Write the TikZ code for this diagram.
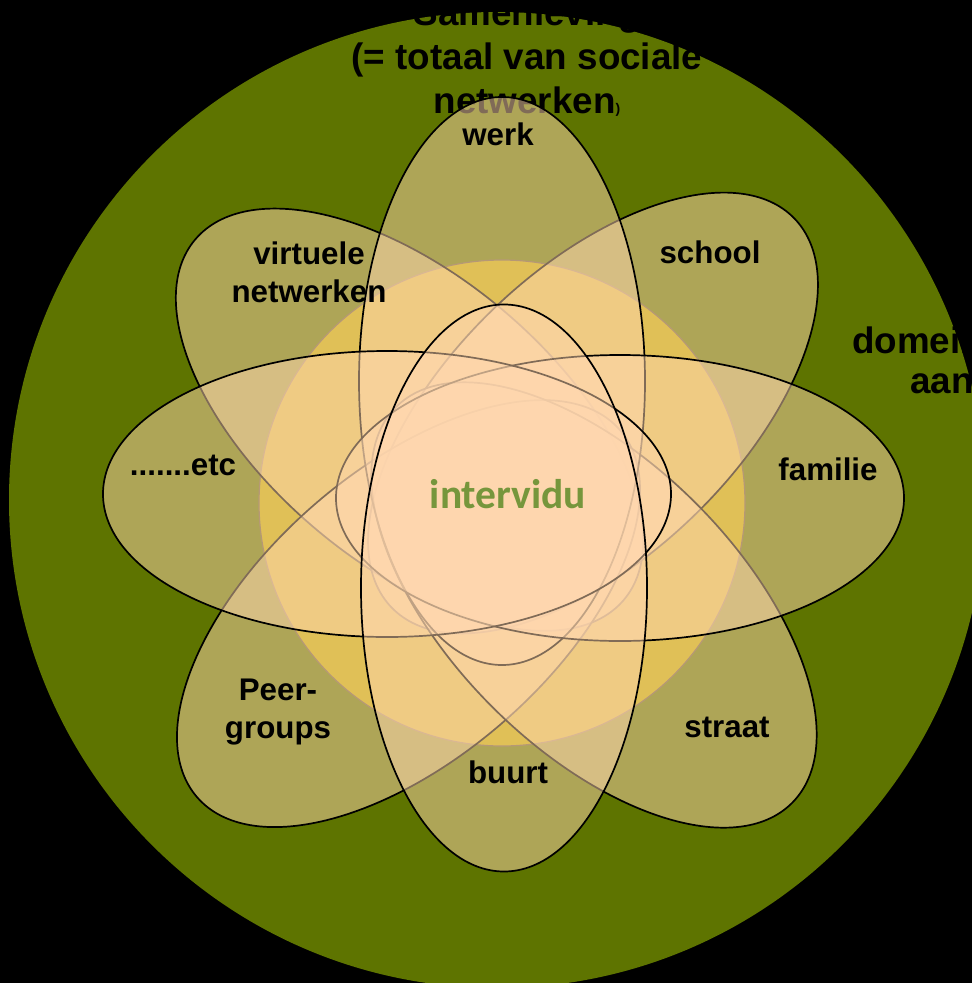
\documentclass[tikz,border=0pt]{standalone}
\usepackage{fontspec}
\setmainfont{Liberation Sans}
\newfontfamily\calfont{Carlito}
\definecolor{society}{RGB}{94,116,0}
\definecolor{core}{RGB}{193,169,0}
\definecolor{coreline}{RGB}{110,90,60}
\definecolor{petalfill}{RGB}{255,215,175}
\definecolor{indiv}{RGB}{118,150,60}
\begin{document}
\begin{tikzpicture}[x=1pt,y=-1pt,
  petal/.style={fill=petalfill, fill opacity=0.5, draw=black, line width=1.7pt},
  lbl/.style={font=\fontsize{31.3}{38}\selectfont\bfseries, text=black, inner sep=0pt, anchor=base, align=center},
  ttl/.style={font=\fontsize{36.8}{44}\selectfont\bfseries, text=black, inner sep=0pt, anchor=base, align=center}]
\fill[black] (0,0) rectangle (972,983);
\useasboundingbox (0,0) rectangle (972,983);
% society
\fill[society] (497,500) circle[radius=488];
\node[ttl] (title) at (527,113) {Samenleving\\(= totaal van sociale\\netwerken{\fontsize{14}{14}\selectfont)}};
\node[ttl, anchor=base west] (dom) at (852,353) {domein};
\node[ttl, anchor=base west] (aan) at (910,393) {aan};
% core circle
\filldraw[fill=core, draw=coreline, line width=1.2pt] (502,503) circle[radius=243];
% petals
\draw[petal, rotate around={-40:(409.5,419.7)}] (409.5,419.7) ellipse[x radius=280, y radius=144];
\draw[petal, rotate around={44:(593,413)}] (593,413) ellipse[x radius=280, y radius=144];
\draw[petal, rotate around={41:(408.5,613.6)}] (408.5,613.6) ellipse[x radius=280, y radius=144];
\draw[petal, rotate around={-45:(594,605)}] (594,605) ellipse[x radius=280, y radius=144];
\draw[petal] (502,381) ellipse[x radius=143, y radius=284];
\draw[petal] (620,498) ellipse[x radius=284, y radius=143];
\draw[petal] (387,494) ellipse[x radius=284, y radius=143];
\draw[petal] (504,588) ellipse[x radius=143, y radius=283.5];
% labels
\node[lbl] (werk) at (498,145) {werk};
\node[lbl] (virt) at (309,302) {virtuele\\netwerken};
\node[lbl] (school) at (710,263) {school};
\node[lbl] (etc) at (183,475) {.......etc};
\node[lbl] (fam) at (828,480) {familie};
\node[lbl] (peer) at (278,738) {Peer-\\groups};
\node[lbl] (straat) at (727,737) {straat};
\node[lbl] (buurt) at (508,783) {buurt};
\node[font=\calfont\fontsize{41.5}{48}\selectfont\bfseries, text=indiv, inner sep=0pt, anchor=base] (ind) at (508,508) {intervidu};
\end{tikzpicture}
\end{document}
